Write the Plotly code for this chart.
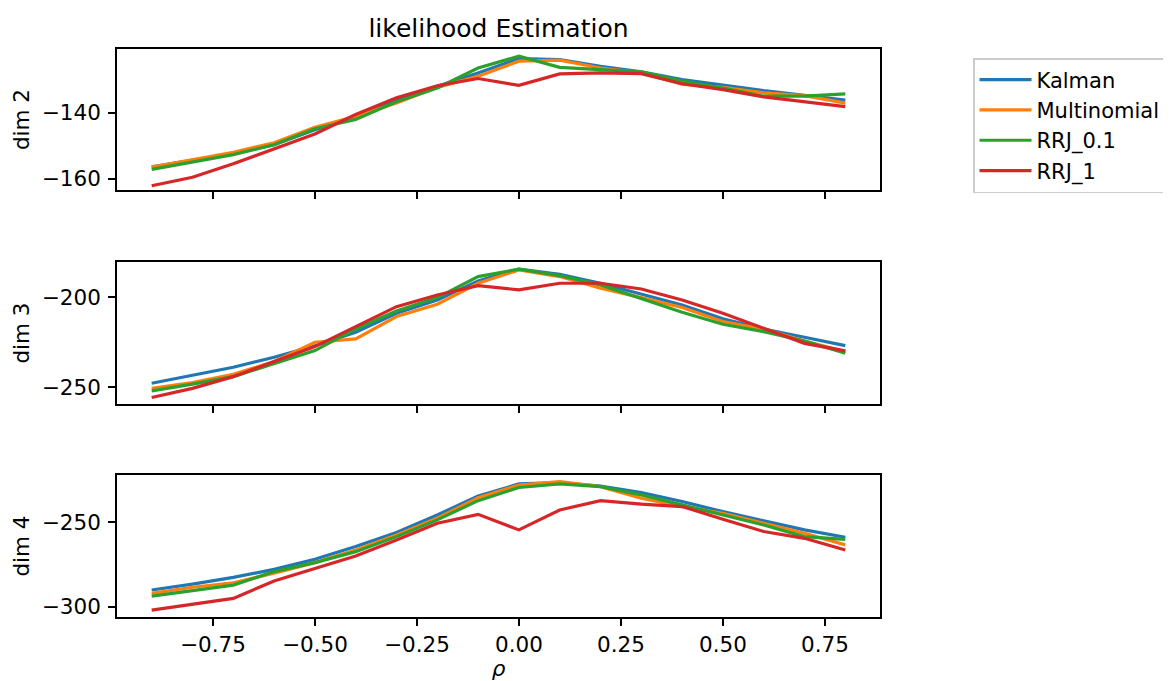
import plotly.graph_objects as go

rho = [-0.9, -0.8, -0.7, -0.6, -0.5, -0.4, -0.3, -0.2, -0.1, 0.0, 0.1, 0.2, 0.3, 0.4, 0.5, 0.6, 0.7, 0.8]
series_names = ["Kalman", "Multinomial", "RRJ_0.1", "RRJ_1"]
colors = ["#1f77b4", "#ff7f0e", "#2ca02c", "#d62728"]

# dim 2
dim2_kalman = [-156.4, -154.4, -152.4, -149.7, -145.1, -141.3, -136.2, -131.9, -127.8, -123.4, -123.7, -125.8, -127.5, -129.8, -131.6, -133.2, -134.6, -136.1]
dim2_multinomial = [-156.5, -154.2, -152.0, -149.1, -144.4, -141.0, -137.0, -132.2, -128.8, -124.2, -123.9, -126.3, -127.8, -131.2, -132.2, -133.9, -134.7, -137.0]
dim2_rrj01 = [-157.2, -154.9, -152.7, -149.7, -144.8, -142.0, -136.6, -132.4, -126.3, -122.7, -126.1, -126.8, -127.5, -130.3, -132.4, -134.9, -134.9, -134.2]
dim2_rrj1 = [-162.2, -159.6, -155.5, -151.0, -146.4, -140.5, -135.4, -131.7, -129.5, -131.6, -128.1, -127.8, -128.0, -131.1, -132.9, -135.1, -136.7, -138.1]

# dim 3
dim3_kalman = [-247.8, -243.5, -238.9, -233.3, -226.9, -219.4, -208.9, -201.5, -190.9, -184.3, -187.2, -192.2, -198.3, -204.3, -212.0, -217.6, -222.2, -226.9]
dim3_multinomial = [-250.6, -247.4, -242.8, -235.7, -225.0, -223.1, -210.7, -203.9, -192.2, -184.8, -188.5, -195.0, -200.2, -205.7, -213.5, -217.6, -224.3, -230.2]
dim3_rrj01 = [-252.0, -248.3, -244.1, -236.7, -229.6, -217.6, -207.6, -200.2, -188.5, -184.4, -188.0, -193.1, -200.6, -208.3, -215.0, -219.1, -224.3, -231.1]
dim3_rrj1 = [-255.7, -250.6, -244.1, -235.7, -227.4, -216.3, -205.2, -198.7, -193.5, -195.9, -192.2, -192.2, -195.4, -201.5, -208.9, -217.2, -225.6, -229.8]

# dim 4
dim4_kalman = [-290.1, -286.6, -282.6, -277.9, -271.9, -264.4, -256.1, -245.7, -234.4, -227.3, -226.5, -228.5, -232.4, -237.7, -243.7, -249.0, -254.5, -258.9]
dim4_multinomial = [-292.1, -288.5, -285.8, -280.2, -273.9, -266.4, -257.5, -247.6, -235.4, -227.9, -225.9, -228.9, -235.8, -240.7, -244.7, -250.6, -256.5, -263.4]
dim4_rrj01 = [-293.7, -290.5, -287.2, -279.2, -273.9, -267.4, -258.5, -248.6, -237.2, -229.4, -227.3, -228.9, -233.8, -239.7, -245.7, -251.6, -258.5, -260.1]
dim4_rrj1 = [-302.0, -298.6, -295.1, -284.8, -277.3, -270.0, -260.5, -250.6, -245.3, -254.5, -242.7, -237.2, -239.3, -240.7, -248.2, -255.5, -259.5, -266.4]

panels = [
    ("dim 2", [dim2_kalman, dim2_multinomial, dim2_rrj01, dim2_rrj1], [-163.5, -120.5], 20),
    ("dim 3", [dim3_kalman, dim3_multinomial, dim3_rrj01, dim3_rrj1], [-259.3, -180.4], 50),
    ("dim 4", [dim4_kalman, dim4_multinomial, dim4_rrj01, dim4_rrj1], [-306.1, -222.0], 50),
]

# page body adds an 8px offset; figure is sized/positioned to compensate
OFF = 8
W, H = 1171 - OFF, 681 - OFF
x0, x1 = 117 - OFF, 880 - OFF
ybounds = [(49 - OFF, 190 - OFF), (262 - OFF, 404 - OFF), (475 - OFF, 617 - OFF)]

FONT = "DejaVu Sans"
TICK = 21.5
fig = go.Figure()

for i, (label, data, yr, dt) in enumerate(panels):
    n = i + 1
    xa = "x" if n == 1 else f"x{n}"
    ya = "y" if n == 1 else f"y{n}"
    for j, (name, ys) in enumerate(zip(series_names, data)):
        fig.add_trace(go.Scatter(
            x=rho, y=ys, mode="lines", name=name,
            line=dict(color=colors[j], width=3.2),
            xaxis=xa, yaxis=ya, showlegend=(n == 1), legendgroup=name,
        ))
    top, bot = ybounds[i]
    axis_common = dict(showline=True, linecolor="black", linewidth=1.6, mirror=True,
                       ticks="outside", ticklen=7, tickwidth=1.6, tickcolor="black",
                       showgrid=False, zeroline=False,
                       tickfont=dict(family=FONT, size=TICK, color="black"))
    fig.layout[f"xaxis{'' if n == 1 else n}"] = dict(
        domain=[x0 / W, x1 / W], range=[-0.985, 0.885], anchor=ya,
        tickmode="array", tickvals=[-0.75, -0.5, -0.25, 0, 0.25, 0.5, 0.75],
        tickformat=".2f", showticklabels=(n == 3), ticklabelstandoff=0,
        matches=None if n == 1 else "x",
        title=dict(text="<i>ρ</i>", font=dict(family=FONT, size=TICK, color="black"), standoff=7) if n == 3 else None,
        **axis_common)
    fig.layout[f"yaxis{'' if n == 1 else n}"] = dict(
        domain=[1 - bot / H, 1 - top / H], range=yr, anchor=xa,
        tick0=0, dtick=dt, ticklabelstandoff=3,
        title=dict(text=label, font=dict(family=FONT, size=TICK, color="black"), standoff=6),
        **axis_common)

fig.update_layout(
    width=W, height=H,
    margin=dict(l=0, r=0, t=0, b=0, autoexpand=False),
    plot_bgcolor="white", paper_bgcolor="white",
    font=dict(family=FONT, size=TICK, color="black"),
    title=dict(text="likelihood Estimation", x=(x0 + x1) / 2 / W, xanchor="center",
               y=1 - (28 - OFF) / H, yanchor="middle", font=dict(family=FONT, size=25, color="black")),
    legend=dict(x=(973 - OFF) / W, y=1 - (58 - OFF) / H, xanchor="left", yanchor="top",
                bordercolor="#cccccc", borderwidth=1.5, bgcolor="white",
                font=dict(family=FONT, size=21, color="black"),
                itemwidth=52, tracegroupgap=0),
    showlegend=True,
)

fig.write_html("out.html")
